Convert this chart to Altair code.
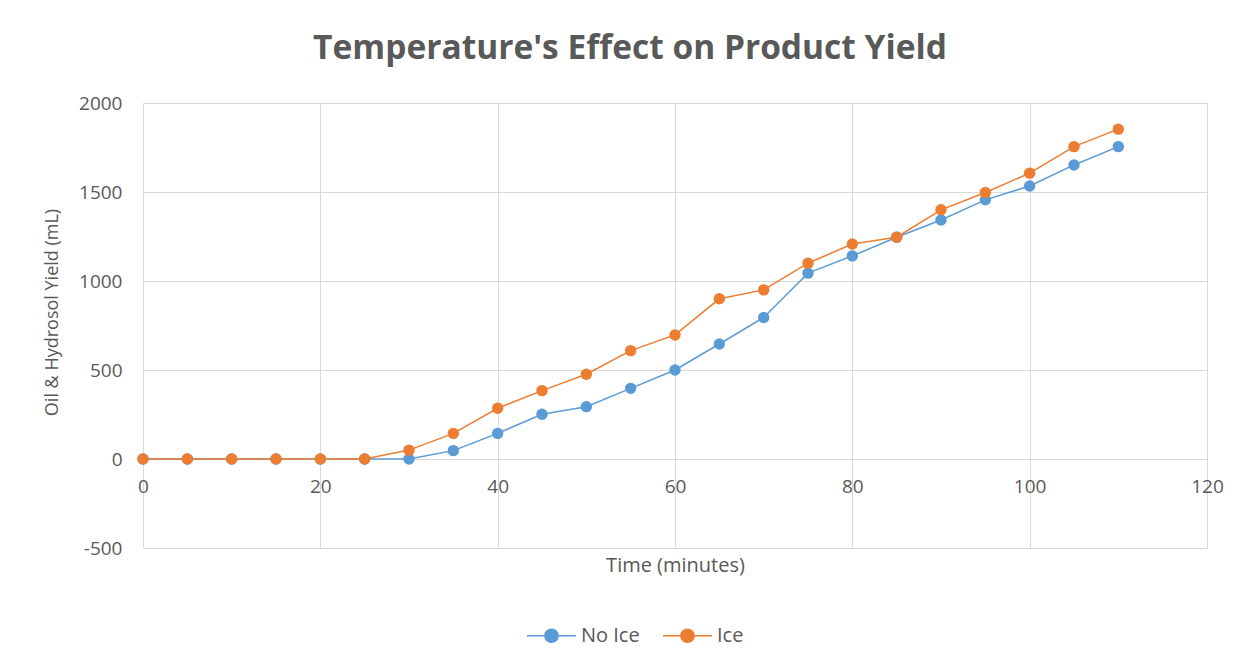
import altair as alt
import pandas as pd

time_min = [0, 5, 10, 15, 20, 25, 30, 35, 40, 45, 50, 55, 60, 65, 70, 75, 80, 85, 90, 95, 100, 105, 110]
no_ice = [0, 0, 0, 0, 0, 0, 0, 47, 144, 251, 294, 397, 500, 646, 795, 1044, 1141, 1246, 1343, 1456, 1534, 1652, 1755]
ice = [0, 0, 0, 0, 0, 0, 50, 144, 285, 384, 476, 609, 697, 900, 950, 1100, 1208, 1246, 1400, 1497, 1606, 1755, 1853]
series_names = ["No Ice", "Ice"]
series_colors = ["#5b9bd5", "#ed7d31"]

rows = []
for name, vals in zip(series_names, [no_ice, ice]):
    for t, v in zip(time_min, vals):
        rows.append({"Time": t, "Yield": v, "Series": name})
df = pd.DataFrame(rows)

FONT = "Open Sans"
GREY = "#595959"
GRID = "#d9d9d9"

x_enc = alt.X(
    "Time:Q",
    scale=alt.Scale(domain=[0, 120], nice=False, zero=False),
    axis=alt.Axis(
        values=[0, 20, 40, 60, 80, 100, 120],
        format="d",
        title="Time (minutes)",
        offset=-89,
        ticks=False,
        tickSize=0,
        labelPadding=18,
        labelFlush=False,
        titlePadding=59,
        titleFontSize=20,
        grid=True,
        gridColor=GRID,
        domainColor=GRID,
        domainWidth=1,
    ),
)
y_enc = alt.Y(
    "Yield:Q",
    scale=alt.Scale(domain=[-500, 2000], nice=False),
    axis=alt.Axis(
        values=[-500, 0, 500, 1000, 1500, 2000],
        labelExpr="'' + datum.value",
        title="Oil & Hydrosol Yield (mL)",
        ticks=False,
        tickSize=0,
        labelPadding=21,
        domain=False,
        grid=True,
        gridColor=GRID,
        titleX=-91,
        titleY=209,
        titleAngle=-90,
        titleAlign="center",
        titleBaseline="middle",
        titleFontSize=18,
    ),
)

legend_path = "M-1,0H1M0.27,0A0.27,0.27,0,1,1,-0.27,0A0.27,0.27,0,1,1,0.27,0Z"
legend = alt.Legend(
    title=None,
    orient="none",
    direction="horizontal",
    legendX=383,
    legendY=507,
    symbolType=legend_path,
    symbolSize=2401,
    symbolStrokeWidth=1.5,
    symbolOpacity=1,
    labelFontSize=20,
    labelColor=GREY,
    labelFont=FONT,
    labelOffset=4,
)
color_enc = alt.Color(
    "Series:N",
    scale=alt.Scale(domain=series_names, range=series_colors),
    sort=series_names,
    legend=legend,
)

lines = alt.Chart(df).mark_line(strokeWidth=1.5).encode(
    x=x_enc, y=y_enc, color=color_enc, detail="Series:N", order="Time:Q"
)

points = alt.Chart(df).mark_circle(size=130, opacity=1).encode(
    x=x_enc,
    y=y_enc,
    color=color_enc,
)

chart = (
    alt.layer(lines, points)
    .properties(
        width=1064,
        height=445,
        background="white",
        autosize=alt.AutoSizeParams(type="none"),
        padding={"left": 135, "top": 95, "right": 36, "bottom": 111},
        title=alt.TitleParams(
            "Temperature's Effect on Product Yield",
            font=FONT,
            fontSize=33.5,
            fontWeight="bold",
            color=GREY,
            anchor="middle",
            dx=-45,
            offset=28,
        ),
    )
    .configure_view(stroke=None)
    .configure_legend(columnPadding=20)
    .configure_axis(
        labelFont=FONT,
        titleFont=FONT,
        labelFontSize=19,
        titleFontSize=15,
        labelColor=GREY,
        titleColor=GREY,
        titleFontWeight="normal",
    )
)

chart.save("out.html", embed_options={"renderer": "svg", "actions": False})
